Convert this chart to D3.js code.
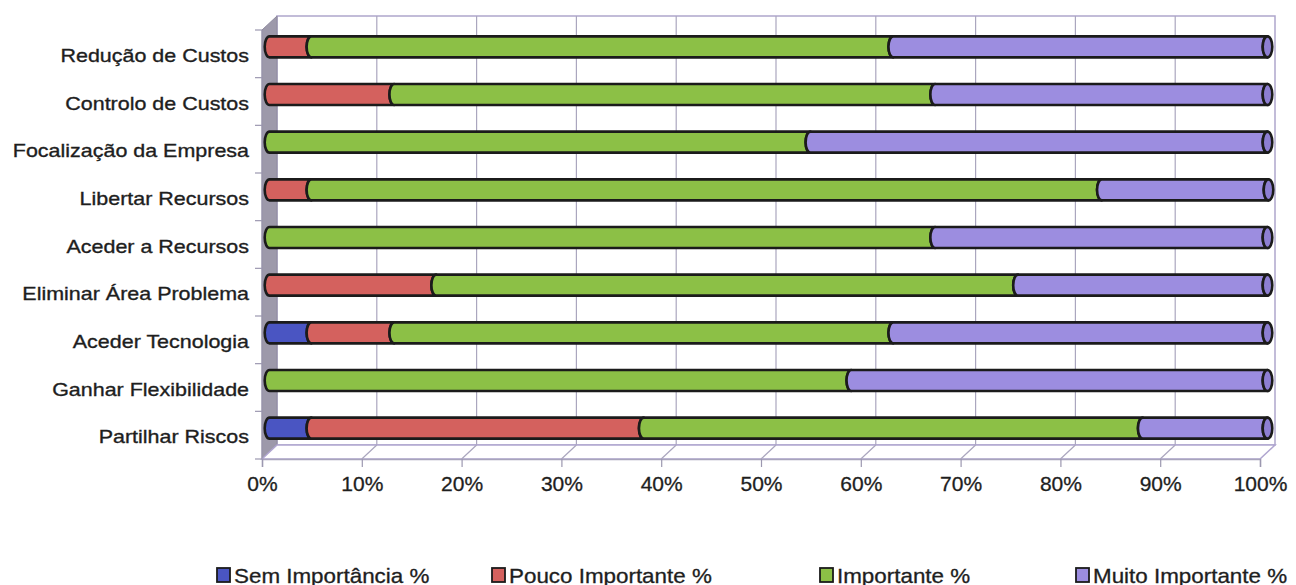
<!DOCTYPE html>
<html>
<head>
<meta charset="utf-8">
<script src="https://cdn.jsdelivr.net/npm/d3@7"></script>
<style>
  html, body { margin: 0; padding: 0; background: #ffffff; }
  svg { display: block; font-family: "Liberation Sans", Arial, sans-serif; }
</style>
</head>
<body>
<svg id="chart" width="1296" height="585"></svg>
<script>
// Motivos para o outsourcing, distribuição das respostas (%)
const categories = [
  "Redução de Custos",
  "Controlo de Custos",
  "Focalização da Empresa",
  "Libertar Recursos",
  "Aceder a Recursos",
  "Eliminar Área Problema",
  "Aceder Tecnologia",
  "Ganhar Flexibilidade",
  "Partilhar Riscos"
];
const seriesNames = ["Sem Importância %", "Pouco Importante %", "Importante %", "Muito Importante %"];
const semImportancia  = [0, 0, 0, 0, 0, 0, 4.2, 0, 4.2];
const poucoImportante = [4.2, 12.5, 0, 4.2, 0, 16.7, 8.3, 0, 33.3];
const importante      = [58.3, 54.2, 54.2, 79.2, 66.7, 58.3, 50.0, 58.3, 50.0];
const muitoImportante = [37.5, 33.3, 45.8, 16.7, 33.3, 25.0, 37.5, 41.7, 12.5];
const tickValues = [0, 10, 20, 30, 40, 50, 60, 70, 80, 90, 100];

const colors = ["#4a55c2", "#d4615e", "#8cc046", "#9c8de0"];
const capColor = "#8d7ed2";
const textColor = "#1e1e1e";

const svg = d3.select("#chart");

// front plane of the 3-D box and the depth offset to its back wall
const front = { x0: 262, x1: 1260, y0: 30, y1: 459 };
const depth = { dx: 15, dy: -14 };

const x = d3.scaleLinear().domain([0, 100]).range([front.x0, front.x1]);
const y = d3.scaleBand().domain(categories).range([front.y0, front.y1]);

const rows = categories.map((c, i) => ({
  cat: c,
  s0: semImportancia[i], s1: poucoImportante[i], s2: importante[i], s3: muitoImportante[i]
}));
const stack = d3.stack().keys(["s0", "s1", "s2", "s3"]);
const layers = stack(rows);

const gridColor = "#aaa6be";
const wallLine = "#aea6cc";

// back wall
const backX0 = x(0) + depth.dx, backX1 = x(100) + depth.dx;
const backY0 = front.y0 + depth.dy, backY1 = front.y1 + depth.dy;
svg.append("rect")
  .attr("x", backX0).attr("y", backY0)
  .attr("width", backX1 - backX0).attr("height", backY1 - backY0)
  .attr("fill", "#ffffff").attr("stroke", wallLine).attr("stroke-width", 1.5);

// vertical gridlines on the back wall
svg.append("g").selectAll("line").data(tickValues.slice(1, -1)).join("line")
  .attr("x1", d => x(d) + depth.dx).attr("x2", d => x(d) + depth.dx)
  .attr("y1", backY0).attr("y2", backY1)
  .attr("stroke", gridColor).attr("stroke-width", 1.2);

// left side wall
svg.append("path")
  .attr("d", `M${x(0)},${front.y0} L${backX0},${backY0} L${backX0},${backY1} L${x(0)},${front.y1} Z`)
  .attr("fill", "#9d99aa").attr("stroke", "#8f8ba0").attr("stroke-width", 1);

// floor
svg.append("path")
  .attr("d", `M${x(0)},${front.y1} L${backX0},${backY1} L${backX1},${backY1} L${x(100)},${front.y1} Z`)
  .attr("fill", "#ffffff").attr("stroke", "#b0a6d0").attr("stroke-width", 1.5);
svg.append("g").selectAll("line").data(tickValues.slice(1, -1)).join("line")
  .attr("x1", d => x(d)).attr("x2", d => x(d) + depth.dx)
  .attr("y1", front.y1).attr("y2", backY1)
  .attr("stroke", gridColor).attr("stroke-width", 1.2);

// value axis along the front edge of the floor
const xAxis = d3.axisBottom(x).tickValues(tickValues).tickFormat(d => d + "%")
  .tickSize(8).tickPadding(9);
const gx = svg.append("g").attr("transform", `translate(0,${front.y1})`).call(xAxis);
gx.select(".domain").attr("stroke", "#a8a4bc").attr("stroke-width", 1.5);
gx.selectAll(".tick line").attr("stroke", "#9c98b0").attr("stroke-width", 1.2);
gx.selectAll(".tick text").attr("font-size", 21).attr("fill", textColor)
  .attr("stroke", textColor).attr("stroke-width", 0.3)
  .attr("font-family", "'Liberation Sans', Arial, sans-serif");

// category tick marks at band boundaries on the front edge
const bounds = categories.map(c => y(c)).concat([front.y1]);
svg.append("g").selectAll("line").data(bounds).join("line")
  .attr("x1", x(0) - 7).attr("x2", x(0))
  .attr("y1", d => d).attr("y2", d => d)
  .attr("stroke", "#9c98b0").attr("stroke-width", 1.2);
svg.append("line")
  .attr("x1", x(0)).attr("x2", x(0)).attr("y1", front.y0).attr("y2", front.y1)
  .attr("stroke", "#9c98b0").attr("stroke-width", 1);

// category labels
svg.append("g").selectAll("text").data(categories).join("text")
  .attr("transform", d => `translate(249,${y(d) + y.bandwidth() / 2 + 8}) scale(1.13,1)`)
  .attr("text-anchor", "end")
  .attr("font-size", 19)
  .attr("fill", textColor)
  .attr("stroke", textColor).attr("stroke-width", 0.35)
  .text(d => d);

// cylinder bars, placed half way into the depth of the box
const barH = 21, rx = 4.8, ry = barH / 2;
const barDX = depth.dx / 2, barDY = depth.dy / 2;
const barCenter = c => y(c) + y.bandwidth() / 2 + barDY;

function segPath(x0, x1, top, bot) {
  return `M${x0},${top} L${x1},${top} A${rx},${ry} 0 0 0 ${x1},${bot} ` +
         `L${x0},${bot} A${rx},${ry} 0 0 1 ${x0},${top} Z`;
}

const barsG = svg.append("g");
layers.forEach((layer, li) => {
  barsG.append("g").selectAll("path")
    .data(layer.filter(d => d[1] - d[0] > 0.01))
    .join("path")
    .attr("d", d => {
      const cy = barCenter(d.data.cat);
      return segPath(x(d[0]) + barDX, x(d[1]) + barDX, cy - ry, cy + ry);
    })
    .attr("fill", colors[li])
    .attr("stroke", "#1b1b1b").attr("stroke-width", 2.6)
    .attr("stroke-linejoin", "round");
});

// visible end face of each cylinder
const last = layers[layers.length - 1];
barsG.append("g").selectAll("ellipse").data(last).join("ellipse")
  .attr("cx", d => x(d[1]) + barDX)
  .attr("cy", d => barCenter(d.data.cat))
  .attr("rx", rx).attr("ry", ry)
  .attr("fill", capColor)
  .attr("stroke", "#1b1b1b").attr("stroke-width", 2.6);

// legend
const legendX = [217, 492, 820, 1076];
const legendY = 575;
const lg = svg.append("g").selectAll("g").data(seriesNames).join("g")
  .attr("transform", (d, i) => `translate(${legendX[i]},${legendY})`);
lg.append("rect")
  .attr("x", 0).attr("y", -7).attr("width", 13).attr("height", 14)
  .attr("fill", (d, i) => colors[i])
  .attr("stroke", "#1b1b1b").attr("stroke-width", 1.8);
lg.append("text")
  .attr("transform", "translate(17,7.5) scale(1.12,1)")
  .attr("font-size", 20)
  .attr("fill", textColor)
  .attr("stroke", textColor).attr("stroke-width", 0.3)
  .text(d => d);
</script>
</body>
</html>
